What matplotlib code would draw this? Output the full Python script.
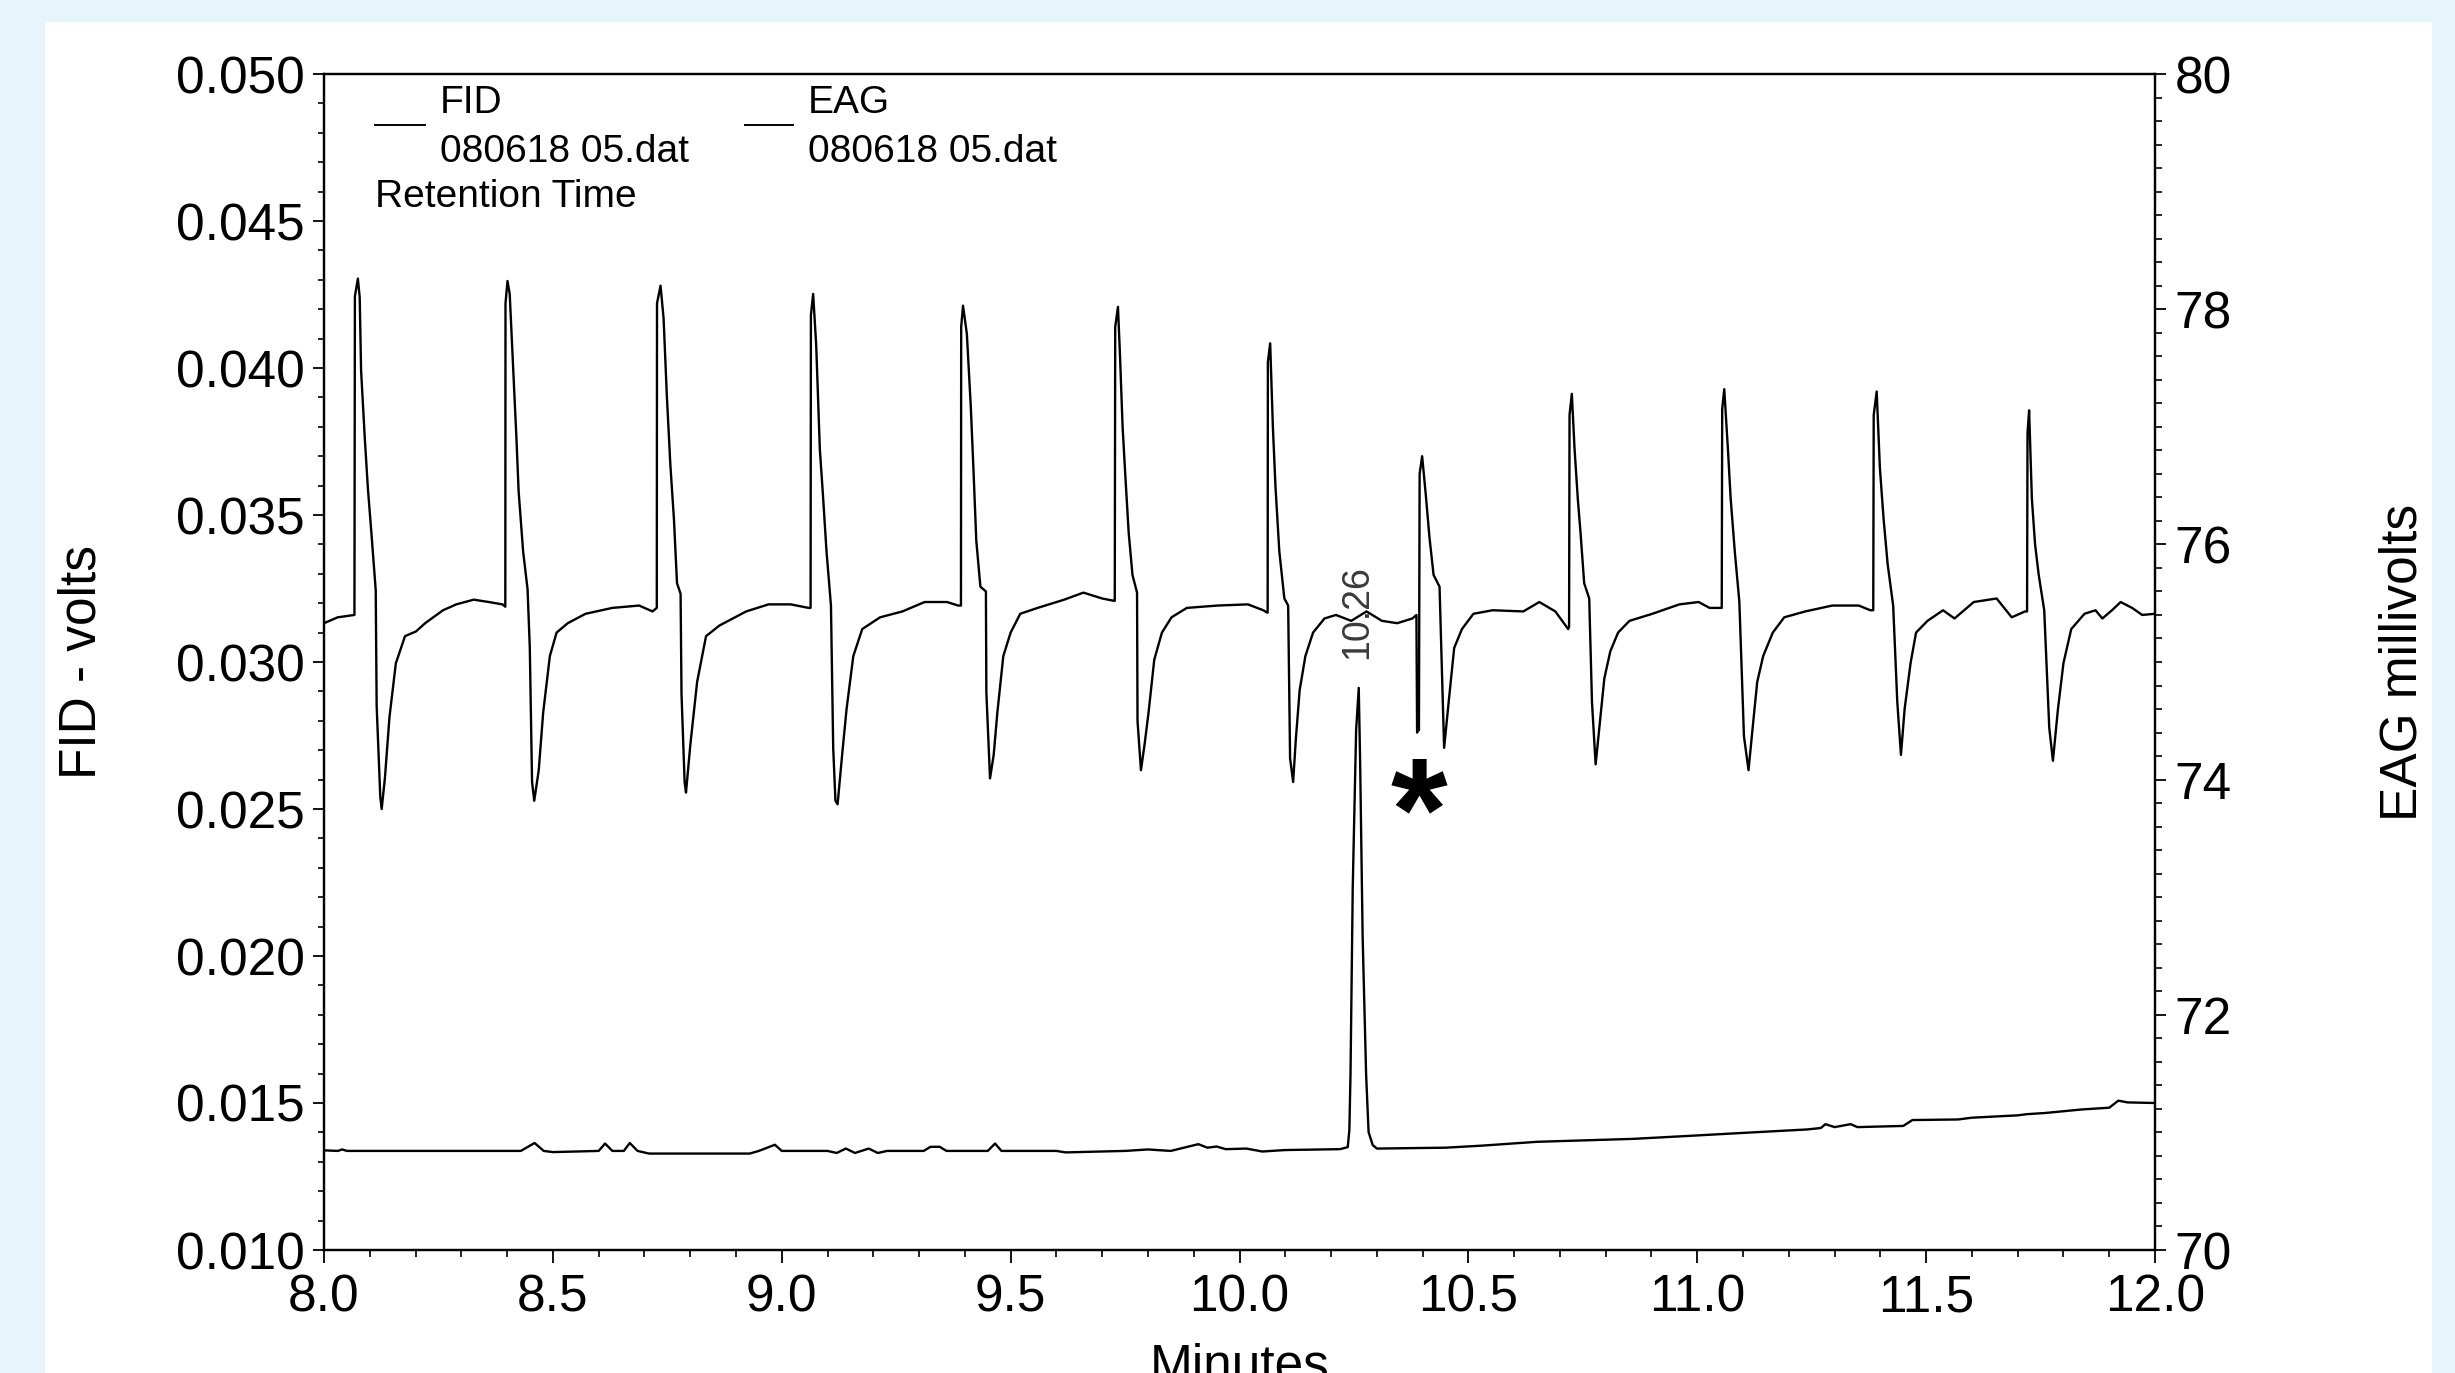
import matplotlib
matplotlib.use("Agg")
import matplotlib.pyplot as plt
from matplotlib.ticker import MultipleLocator, FormatStrFormatter
from matplotlib.patches import Rectangle
from matplotlib.lines import Line2D

plt.rcParams['font.family'] = ['Liberation Sans', 'DejaVu Sans']

# FID trace (volts)
fid_t = [8.000, 8.030, 8.040, 8.050, 8.060, 8.430, 8.460, 8.480, 8.500, 8.600,
         8.614, 8.630, 8.655, 8.668, 8.685, 8.710, 8.850, 8.930, 8.950, 8.985,
         9.000, 9.100, 9.120, 9.140, 9.160, 9.190, 9.210, 9.230, 9.310, 9.325,
         9.345, 9.360, 9.450, 9.466, 9.480, 9.600, 9.620, 9.750, 9.800, 9.850,
         9.910, 9.930, 9.950, 9.970, 10.015, 10.050, 10.100, 10.220, 10.2365, 10.240,
         10.2425, 10.2474, 10.2548, 10.2605, 10.2635, 10.269, 10.2766, 10.282, 10.291, 10.300,
         10.450, 10.530, 10.650, 10.860, 10.980, 11.120, 11.240, 11.270, 11.280, 11.300,
         11.335, 11.350, 11.450, 11.470, 11.570, 11.600, 11.700, 11.720, 11.760, 11.800,
         11.840, 11.900, 11.920, 11.940, 12.000]
fid_v = [0.01339, 0.01337, 0.01342, 0.01337, 0.01337, 0.01337, 0.01364, 0.01337, 0.01333, 0.01337,
         0.01362, 0.01337, 0.01337, 0.01364, 0.01337, 0.01328, 0.01328, 0.01328, 0.01337, 0.01358,
         0.01337, 0.01337, 0.01330, 0.01345, 0.01330, 0.01345, 0.01330, 0.01337, 0.01337, 0.01351,
         0.01351, 0.01337, 0.01337, 0.01362, 0.01337, 0.01337, 0.01332, 0.01337, 0.01342, 0.01337,
         0.01360, 0.01348, 0.01352, 0.01343, 0.01345, 0.01335, 0.01340, 0.01343, 0.01350, 0.01408,
         0.01597, 0.02235, 0.02769, 0.02912, 0.02664, 0.02066, 0.01597, 0.01401, 0.01357, 0.01345,
         0.01348, 0.01355, 0.01368, 0.01378, 0.01388, 0.01400, 0.01410, 0.01415, 0.01428, 0.01418,
         0.01428, 0.01418, 0.01422, 0.01442, 0.01444, 0.01450, 0.01458, 0.01462, 0.01466, 0.01472,
         0.01478, 0.01484, 0.01508, 0.01502, 0.01500]

# EAG trace (millivolts), one row per antennal response
eag_t = [8.000, 8.030, 8.0665, 8.0675, 8.074, 8.078, 8.081, 8.089, 8.096, 8.1035, 8.113, 8.115, 8.123, 8.126,
         8.133, 8.143, 8.157, 8.177, 8.201, 8.221, 8.260, 8.289, 8.327, 8.360, 8.390,
         8.3961, 8.3965, 8.4009, 8.4057, 8.4125, 8.4203, 8.4252, 8.4350, 8.4447, 8.4496, 8.4545, 8.4593,
         8.4691, 8.4788, 8.4934, 8.5081, 8.5325, 8.5714, 8.6299, 8.6884, 8.7177,
         8.7270, 8.7275, 8.7352, 8.7419, 8.7489, 8.7566, 8.7644, 8.7712, 8.7790, 8.7810, 8.7878, 8.7908,
         8.8004, 8.8151, 8.8346, 8.8638, 8.9223, 8.9711, 9.0197, 9.0587,
         9.0630, 9.0637, 9.0686, 9.0753, 9.0832, 9.0900, 9.0978, 9.1075, 9.1124, 9.1173, 9.1220,
         9.1319, 9.1416, 9.1563, 9.1758, 9.2148, 9.2636, 9.3122, 9.3610, 9.3854,
         9.3915, 9.3920, 9.3960, 9.4044, 9.4130, 9.4190, 9.4250, 9.4340, 9.4460, 9.4470, 9.4550,
         9.4630, 9.4710, 9.4840, 9.5000, 9.5210, 9.5590, 9.6170, 9.6590, 9.7000, 9.7260,
         9.7275, 9.7285, 9.7345, 9.7387, 9.7446, 9.7511, 9.7579, 9.7662, 9.7762, 9.7772, 9.7847,
         9.7930, 9.8013, 9.8138, 9.8305, 9.8515, 9.8850, 9.9518, 10.0185, 10.0520, 10.0603,
         10.0615, 10.0620, 10.0670, 10.0729, 10.0786, 10.0870, 10.0980, 10.1063, 10.1105, 10.1172,
         10.1230, 10.1314, 10.1439, 10.1607, 10.1856, 10.2107, 10.2441, 10.2775, 10.3111, 10.3446, 10.3777,
         10.3865, 10.3880, 10.3900, 10.3920, 10.3935, 10.3990, 10.4070, 10.4150, 10.4240, 10.4370, 10.4410,
         10.4470, 10.4580, 10.4690, 10.4860, 10.5110, 10.5530, 10.6200, 10.6550, 10.6900, 10.7180,
         10.7200, 10.7210, 10.7260, 10.7320, 10.7390, 10.7450, 10.7530, 10.7640, 10.7700, 10.7780,
         10.7860, 10.7970, 10.8100, 10.8270, 10.8520, 10.9020, 10.9610, 11.0030, 11.0270, 11.0530,
         11.0535, 11.0545, 11.0590, 11.0670, 11.0730, 11.0820, 11.0920, 11.1020, 11.1120,
         11.1210, 11.1310, 11.1440, 11.1650, 11.1900, 11.2360, 11.2950, 11.3530, 11.3780,
         11.3845, 11.3855, 11.3920, 11.3990, 11.4070, 11.4160, 11.4280, 11.4370, 11.4450,
         11.4530, 11.4660, 11.4780, 11.5030, 11.5370, 11.5620, 11.6040, 11.6540, 11.6870, 11.7160,
         11.7205, 11.7215, 11.7250, 11.7310, 11.7380, 11.7460, 11.7580, 11.7690, 11.7770,
         11.7880, 11.8000, 11.8170, 11.8460, 11.8700, 11.8850, 11.9060, 11.9250, 11.9500, 11.9720, 12.000]
eag_mv = [75.33, 75.38, 75.40, 78.11, 78.26, 78.10, 77.48, 76.91, 76.47, 76.10, 75.61, 74.63, 73.85, 73.75,
          74.01, 74.53, 74.99, 75.22, 75.26, 75.33, 75.44, 75.49, 75.53, 75.51, 75.49,
          75.47, 78.05, 78.24, 78.13, 77.56, 76.91, 76.45, 75.94, 75.62, 75.12, 73.98, 73.82,
          74.08, 74.57, 75.05, 75.25, 75.33, 75.41, 75.46, 75.48, 75.43,
          75.46, 78.05, 78.20, 77.92, 77.27, 76.68, 76.22, 75.67, 75.58, 74.73, 73.98, 73.89,
          74.30, 74.83, 75.22, 75.31, 75.43, 75.49, 75.49, 75.46,
          75.46, 77.95, 78.13, 77.69, 76.81, 76.42, 75.94, 75.48, 74.27, 73.82, 73.79,
          74.21, 74.60, 75.05, 75.28, 75.38, 75.43, 75.51, 75.51, 75.48,
          75.48, 77.85, 78.03, 77.79, 77.17, 76.62, 76.03, 75.64, 75.60, 74.74, 74.01,
          74.21, 74.57, 75.05, 75.25, 75.41, 75.46, 75.53, 75.59, 75.54, 75.52,
          75.52, 77.85, 78.02, 77.63, 77.00, 76.55, 76.10, 75.74, 75.59, 74.50, 74.08,
          74.31, 74.57, 75.02, 75.25, 75.38, 75.46, 75.48, 75.49, 75.44, 75.42,
          75.42, 77.55, 77.71, 77.00, 76.49, 75.94, 75.54, 75.48, 74.18, 73.98,
          74.34, 74.76, 75.05, 75.25, 75.37, 75.40, 75.35, 75.43, 75.35, 75.33, 75.37,
          75.40, 74.40, 74.55, 74.42, 76.60, 76.75, 76.42, 76.06, 75.74, 75.64, 75.09,
          74.27, 74.70, 75.12, 75.28, 75.41, 75.44, 75.43, 75.51, 75.43, 75.28,
          75.30, 77.10, 77.28, 76.81, 76.39, 76.10, 75.67, 75.54, 74.66, 74.13,
          74.44, 74.86, 75.09, 75.25, 75.35, 75.41, 75.49, 75.51, 75.46, 75.46,
          75.46, 77.15, 77.32, 76.81, 76.39, 75.94, 75.51, 74.37, 74.08,
          74.44, 74.83, 75.05, 75.25, 75.38, 75.43, 75.48, 75.48, 75.44,
          75.44, 77.10, 77.30, 76.65, 76.22, 75.83, 75.48, 74.66, 74.21,
          74.60, 74.99, 75.25, 75.35, 75.44, 75.37, 75.51, 75.54, 75.38, 75.43,
          75.43, 76.95, 77.14, 76.39, 76.00, 75.74, 75.44, 74.44, 74.16,
          74.60, 74.99, 75.28, 75.41, 75.44, 75.37, 75.44, 75.51, 75.46, 75.40, 75.41]

peak_label = "10.26"
peak_label_t = 10.256
legend_names = ["FID", "EAG"]
legend_file = "080618 05.dat"

W, H = 2455, 1373
fig = plt.figure(figsize=(W / 100, H / 100), dpi=100, facecolor='#E6F4FC')
# white panel behind the chart
fig.patches.append(Rectangle((45 / W, 0), (2432 - 45) / W, (H - 22) / H,
                             transform=fig.transFigure, facecolor='white',
                             edgecolor='none', zorder=-5))

ax = fig.add_axes([324 / W, 1 - 1250 / H, (2155 - 324) / W, (1250 - 74) / H])
ax2 = ax.twinx()

ax.plot(fid_t, fid_v, color='black', lw=1.7)
ax2.plot(eag_t, eag_mv, color='black', lw=1.7)

ax.set_xlim(8.0, 12.0)
ax.set_ylim(0.010, 0.050)
ax2.set_ylim(70, 80)

ax.xaxis.set_major_locator(MultipleLocator(0.5))
ax.xaxis.set_minor_locator(MultipleLocator(0.1))
ax.yaxis.set_major_locator(MultipleLocator(0.005))
ax.yaxis.set_minor_locator(MultipleLocator(0.001))
ax2.yaxis.set_major_locator(MultipleLocator(2))
ax2.yaxis.set_minor_locator(MultipleLocator(0.2))
ax.xaxis.set_major_formatter(FormatStrFormatter('%.1f'))
ax.yaxis.set_major_formatter(FormatStrFormatter('%.3f'))
ax2.yaxis.set_major_formatter(FormatStrFormatter('%d'))

ax.tick_params(axis='y', which='major', length=8, width=1.3, labelsize=37, pad=6)
ax.tick_params(axis='y', which='minor', length=4, width=1.2)
ax.tick_params(axis='x', which='major', length=9, width=1.3, labelsize=37, pad=8)
ax.tick_params(axis='x', which='minor', length=5, width=1.2)
ax2.tick_params(axis='y', which='major', length=8, width=1.3, labelsize=37, pad=6)
ax2.tick_params(axis='y', which='minor', length=5, width=1.2)

for a in (ax, ax2):
    for s in a.spines.values():
        s.set_linewidth(1.6)

ax.set_xlabel('Minutes', fontsize=37, labelpad=14)
ax.set_ylabel('FID - volts', fontsize=37)
ax.yaxis.set_label_coords(-0.119, 0.5)
ax2.set_ylabel('EAG millivolts', fontsize=37)
ax2.yaxis.set_label_coords(1.122, 0.5)

# peak retention time label and the marked response
ax.text(peak_label_t, 0.0301, peak_label, rotation=90, ha='center', va='bottom',
        fontsize=27, color='#3a3a3a')
ax.text(10.391, 0.0233, '*', fontsize=105, fontweight='bold', ha='center', va='baseline')

# legend block in the top-left corner
fig.add_artist(Line2D([375 / W, 425 / W], [1 - 125 / H] * 2, color='black', lw=1.4))
fig.add_artist(Line2D([745 / W, 793 / W], [1 - 125 / H] * 2, color='black', lw=1.4))
fig.text(440 / W, 1 - 113 / H, legend_names[0], fontsize=28, va='baseline')
fig.text(440 / W, 1 - 162 / H, legend_file, fontsize=28, va='baseline')
fig.text(808 / W, 1 - 113 / H, legend_names[1], fontsize=28, va='baseline')
fig.text(808 / W, 1 - 162 / H, legend_file, fontsize=28, va='baseline')
fig.text(375 / W, 1 - 207 / H, 'Retention Time', fontsize=28, va='baseline')

fig.savefig('out.png', dpi=100, facecolor=fig.get_facecolor())
